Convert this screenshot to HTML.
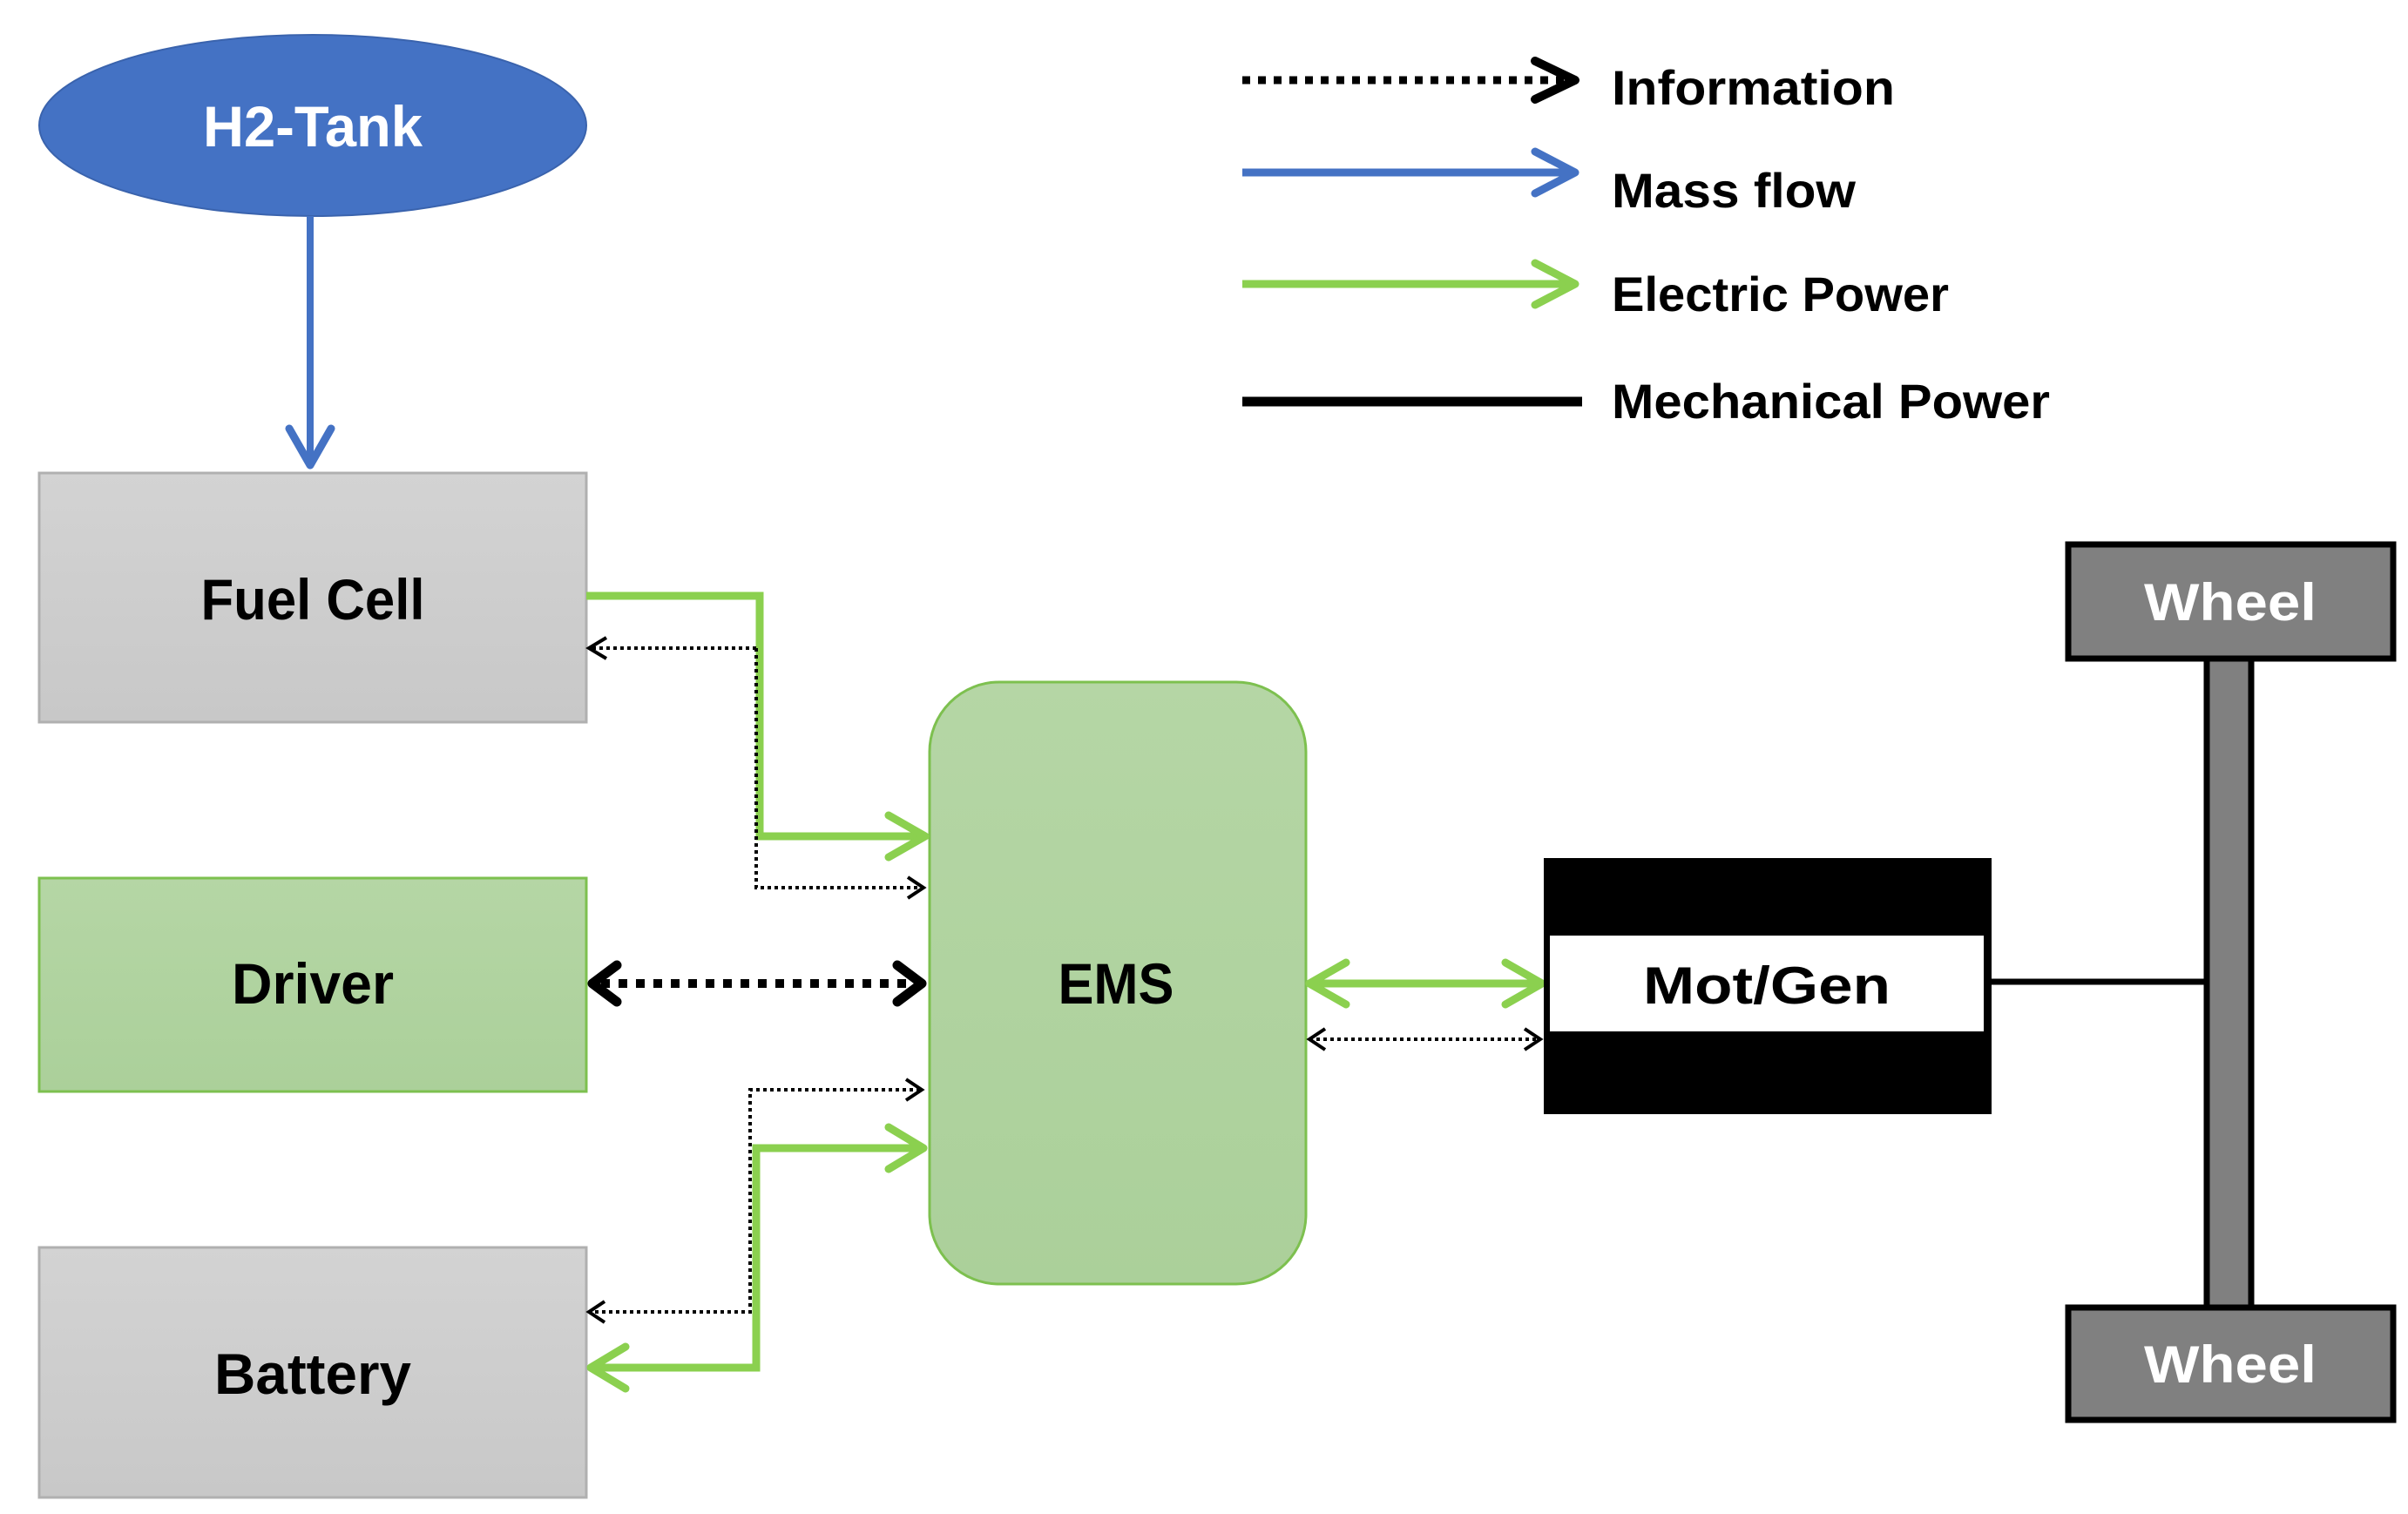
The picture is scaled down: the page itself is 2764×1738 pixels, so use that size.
<!DOCTYPE html>
<html><head><meta charset="utf-8"><style>
html,body{margin:0;padding:0;background:#fff;}
svg{display:block;}
text{font-family:"Liberation Sans",sans-serif;font-weight:bold;}
</style></head><body>
<svg width="2764" height="1738" viewBox="0 0 2764 1738" xmlns="http://www.w3.org/2000/svg">
<defs>
<linearGradient id="gg" x1="0" y1="0" x2="0" y2="1"><stop offset="0" stop-color="#d3d3d3"/><stop offset="1" stop-color="#c8c8c8"/></linearGradient>
<linearGradient id="gr" x1="0" y1="0" x2="0" y2="1"><stop offset="0" stop-color="#b5d6a5"/><stop offset="1" stop-color="#abd09a"/></linearGradient>
</defs>

<!-- Legend -->
<line x1="1426" y1="92" x2="1800" y2="92" stroke="#000" stroke-width="9" stroke-dasharray="9 9"/>
<polyline points="1762,70 1808,92 1762,114" fill="none" stroke="#000" stroke-width="10" stroke-linecap="round" stroke-linejoin="round"/>
<line x1="1426" y1="198" x2="1805" y2="198" stroke="#4472c4" stroke-width="9"/>
<polyline points="1762,174 1808,198 1762,222" fill="none" stroke="#4472c4" stroke-width="9" stroke-linecap="round" stroke-linejoin="round"/>
<line x1="1426" y1="326" x2="1805" y2="326" stroke="#8bd04f" stroke-width="9"/>
<polyline points="1762,302 1808,326 1762,350" fill="none" stroke="#8bd04f" stroke-width="9" stroke-linecap="round" stroke-linejoin="round"/>
<line x1="1426" y1="461" x2="1816" y2="461" stroke="#000" stroke-width="11"/>
<text x="1850" y="120" font-size="56" textLength="325" lengthAdjust="spacingAndGlyphs">Information</text>
<text x="1850" y="238" font-size="56" textLength="280" lengthAdjust="spacingAndGlyphs">Mass flow</text>
<text x="1850" y="357" font-size="56" textLength="387" lengthAdjust="spacingAndGlyphs">Electric Power</text>
<text x="1850" y="480" font-size="56" textLength="503" lengthAdjust="spacingAndGlyphs">Mechanical Power</text>

<!-- H2 Tank -->
<ellipse cx="359" cy="144" rx="314" ry="104" fill="#4472c4" stroke="#3a63ad" stroke-width="2"/>
<text x="359" y="168" font-size="66" fill="#fff" text-anchor="middle" textLength="252" lengthAdjust="spacingAndGlyphs">H2-Tank</text>
<line x1="356" y1="248" x2="356" y2="534" stroke="#4472c4" stroke-width="8"/>
<polyline points="332,492 356,534 380,492" fill="none" stroke="#4472c4" stroke-width="9" stroke-linecap="round" stroke-linejoin="round"/>

<!-- Boxes -->
<rect x="45" y="543" width="628" height="286" fill="url(#gg)" stroke="#b0b0b0" stroke-width="3"/>
<text x="359" y="711" font-size="66" text-anchor="middle" textLength="257" lengthAdjust="spacingAndGlyphs">Fuel Cell</text>
<rect x="45" y="1008" width="628" height="245" fill="url(#gr)" stroke="#7dc04f" stroke-width="3"/>
<text x="359" y="1152" font-size="66" text-anchor="middle" textLength="186" lengthAdjust="spacingAndGlyphs">Driver</text>
<rect x="45" y="1432" width="628" height="287" fill="url(#gg)" stroke="#b0b0b0" stroke-width="3"/>
<text x="359" y="1600" font-size="66" text-anchor="middle" textLength="226" lengthAdjust="spacingAndGlyphs">Battery</text>

<rect x="1067" y="783" width="432" height="691" rx="80" fill="url(#gr)" stroke="#7dc04f" stroke-width="3"/>
<text x="1281" y="1152" font-size="66" text-anchor="middle" textLength="133" lengthAdjust="spacingAndGlyphs">EMS</text>

<!-- Fuel cell connections -->
<polyline points="673,684 872,684 872,960 1060,960" fill="none" stroke="#8bd04f" stroke-width="9"/>
<polyline points="1020,936 1062,960 1020,984" fill="none" stroke="#8bd04f" stroke-width="9" stroke-linecap="round" stroke-linejoin="round"/>
<polyline points="868,744 868,1019 1056,1019" fill="none" stroke="#000" stroke-width="4" stroke-dasharray="4 4"/>
<line x1="868" y1="744" x2="678" y2="744" stroke="#000" stroke-width="4" stroke-dasharray="4 4"/>
<polyline points="696,732 676,744 696,756" fill="none" stroke="#000" stroke-width="4"/>
<polyline points="1042,1007 1060,1019 1042,1031" fill="none" stroke="#000" stroke-width="4"/>

<!-- Driver <-> EMS -->
<line x1="690" y1="1129" x2="1045" y2="1129" stroke="#000" stroke-width="10" stroke-dasharray="10 10"/>
<polyline points="708,1108 680,1129 708,1150" fill="none" stroke="#000" stroke-width="11" stroke-linecap="round" stroke-linejoin="round"/>
<polyline points="1030,1108 1058,1129 1030,1150" fill="none" stroke="#000" stroke-width="11" stroke-linecap="round" stroke-linejoin="round"/>

<!-- Battery connections -->
<polyline points="1056,1251 861,1251 861,1506 678,1506" fill="none" stroke="#000" stroke-width="4" stroke-dasharray="4 4"/>
<polyline points="1040,1239 1058,1251 1040,1263" fill="none" stroke="#000" stroke-width="4"/>
<polyline points="694,1494 676,1506 694,1518" fill="none" stroke="#000" stroke-width="4"/>
<polyline points="1058,1318 868,1318 868,1570 678,1570" fill="none" stroke="#8bd04f" stroke-width="9"/>
<polyline points="1020,1294 1060,1318 1020,1342" fill="none" stroke="#8bd04f" stroke-width="9" stroke-linecap="round" stroke-linejoin="round"/>
<polyline points="718,1546 678,1570 718,1594" fill="none" stroke="#8bd04f" stroke-width="9" stroke-linecap="round" stroke-linejoin="round"/>

<!-- EMS <-> Mot/Gen -->
<line x1="1505" y1="1129" x2="1766" y2="1129" stroke="#8bd04f" stroke-width="9"/>
<polyline points="1545,1105 1503,1129 1545,1153" fill="none" stroke="#8bd04f" stroke-width="9" stroke-linecap="round" stroke-linejoin="round"/>
<polyline points="1728,1105 1770,1129 1728,1153" fill="none" stroke="#8bd04f" stroke-width="9" stroke-linecap="round" stroke-linejoin="round"/>
<line x1="1503" y1="1193" x2="1766" y2="1193" stroke="#000" stroke-width="4" stroke-dasharray="4 4"/>
<polyline points="1521,1181 1503,1193 1521,1205" fill="none" stroke="#000" stroke-width="4"/>
<polyline points="1750,1181 1768,1193 1750,1205" fill="none" stroke="#000" stroke-width="4"/>

<!-- Mot/Gen -->
<rect x="1772" y="985" width="514" height="294" fill="#000"/>
<rect x="1779" y="1074" width="498" height="110" fill="#fff"/>
<text x="2028" y="1152" font-size="60" text-anchor="middle" textLength="284" lengthAdjust="spacingAndGlyphs">Mot/Gen</text>
<line x1="2286" y1="1127" x2="2532" y2="1127" stroke="#000" stroke-width="7"/>

<!-- Axle & wheels -->
<rect x="2533" y="756" width="51" height="745" fill="#808080" stroke="#000" stroke-width="7"/>
<rect x="2374" y="625" width="373" height="131" fill="#808080" stroke="#000" stroke-width="7"/>
<text x="2560" y="712" font-size="60" fill="#fff" text-anchor="middle" textLength="198" lengthAdjust="spacingAndGlyphs">Wheel</text>
<rect x="2374" y="1501" width="373" height="129" fill="#808080" stroke="#000" stroke-width="7"/>
<text x="2560" y="1587" font-size="60" fill="#fff" text-anchor="middle" textLength="198" lengthAdjust="spacingAndGlyphs">Wheel</text>
</svg>
</body></html>
